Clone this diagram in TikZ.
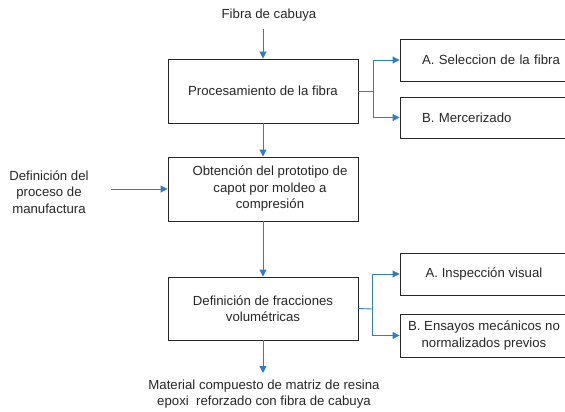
\documentclass[tikz,border=0pt]{standalone}
\usepackage{fontspec}
\setmainfont{Liberation Sans}
\usetikzlibrary{arrows.meta}
\definecolor{arrowblue}{RGB}{45,125,200}
\begin{document}
\begin{tikzpicture}[x=1pt,y=-1pt,
 every node/.style={font=\fontsize{13.2}{16.5}\selectfont,align=center,text=black!85},
 box/.style={draw=black!85,line width=0.9pt,minimum width=190pt,minimum height=64pt,inner sep=0pt},
 sidebox/.style={draw=black!85,line width=0.9pt,minimum width=180pt,minimum height=42pt,inner sep=0pt},
 leftbox/.style={sidebox,align=left,text width=150pt,inner xsep=15pt},
 conn/.style={draw=arrowblue,line width=0.9pt},
 arr/.style={conn,-{Triangle[length=7pt,width=7pt]}}]
\useasboundingbox (0,0) rectangle (565,412);
\clip (0,0) rectangle (565,412);
% main boxes
\node[box] (b1) at (263,91) {Procesamiento de la fibra};
\node[box] (b2) at (263,189) {\hspace*{14pt}Obtención del prototipo de\\\hspace*{14pt}capot por moldeo a\\\hspace*{14pt}compresión};
\node[box,minimum height=63pt] (b3) at (263,308.5) {Definición de fracciones\\volumétricas};
% side boxes
\node[leftbox] (sa1) at (490,60) {\hspace*{7pt}A. Seleccion de la fibra};
\node[leftbox,minimum height=41pt] (sb1) at (490,117.5) {\hspace*{7pt}B. Mercerizado};
\node[sidebox,minimum width=168pt] (sa2) at (484,274) {A. Inspección visual};
\node[sidebox,minimum width=168pt,minimum height=43pt] (sb2) at (484,335.5) {B. Ensayos mecánicos no\\normalizados previos};
% free texts
\node (top) at (269,15) {Fibra de cabuya};
\node (left) at (49,192) {Definición del\\proceso de\\manufactura};
\node (bot) at (264,394) {Material compuesto de matriz de resina\\epoxi\ \ reforzado con fibra de cabuya};
% connectors
\draw[arr] (b1.north |- 0,29) -- (b1.north);
\draw[arr] (b1.south) -- (b2.north);
\draw[arr] (b2.south) -- (b3.north);
\draw[arr] (111,189) -- (b2.west);
\draw[arr] (b3.south) -- (263,373);
\draw[conn] (b1.east) -- (373,91) coordinate (j1);
\draw[arr] (j1) |- (sa1.west);
\draw[arr] (j1) |- (sb1.west);
\draw[conn] (b3.east) -- (372,309) coordinate (j2);
\draw[arr] (j2) |- (sa2.west);
\draw[arr] (j2) |- (sb2.west);
\end{tikzpicture}
\end{document}
